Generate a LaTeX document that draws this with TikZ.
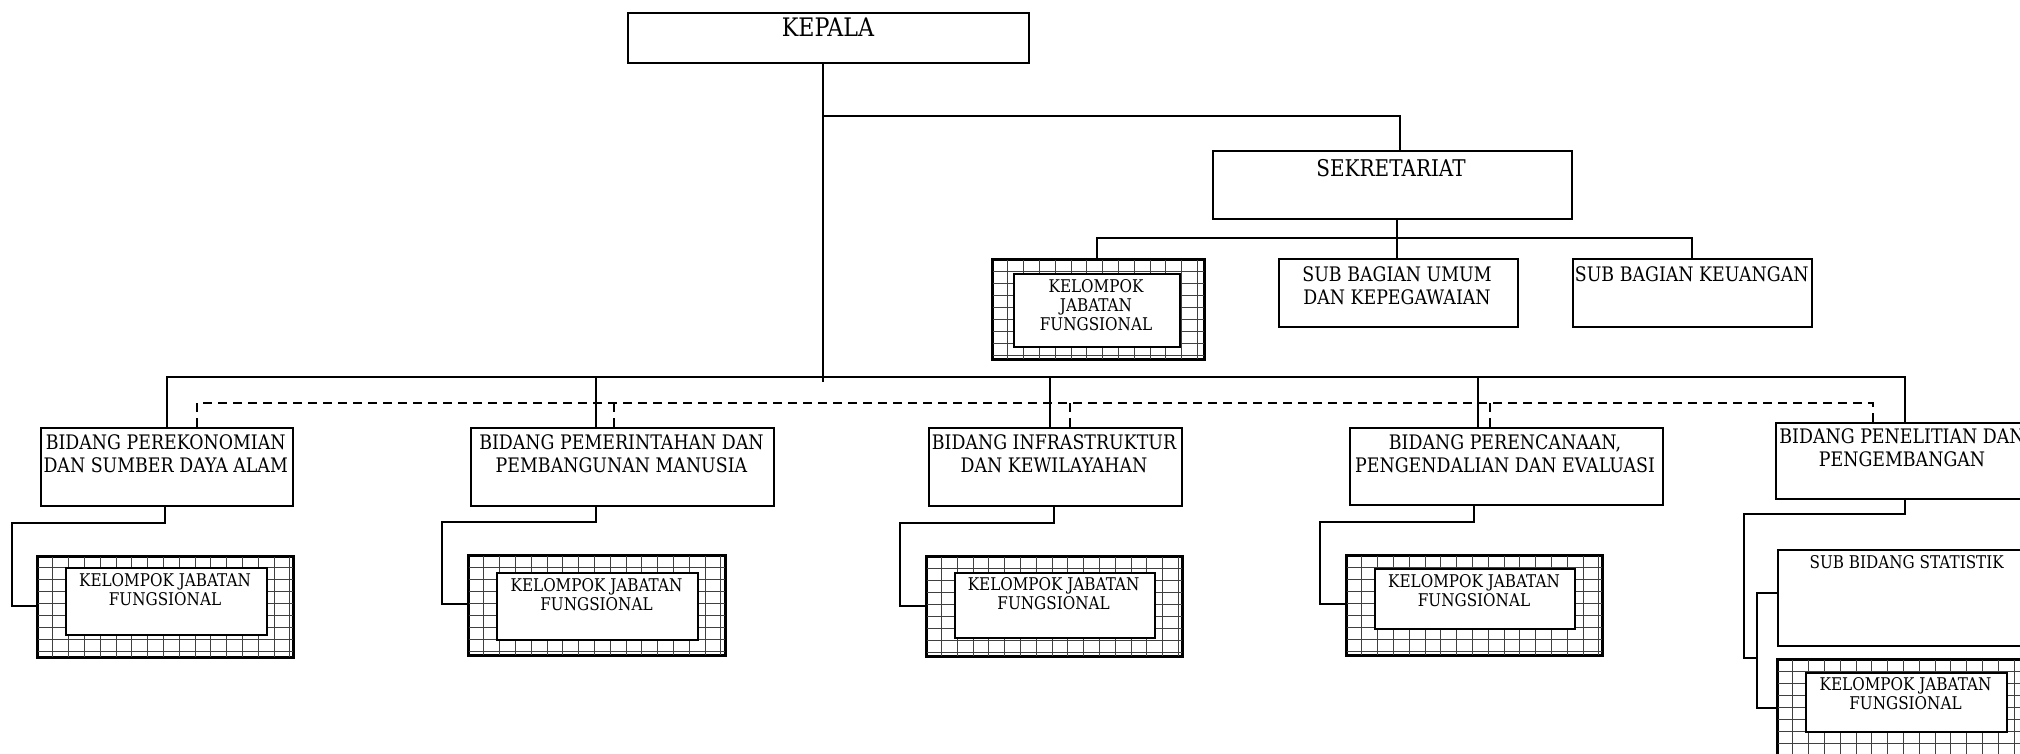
\documentclass[tikz,border=0pt]{standalone}
\usepackage{fontspec}
\setmainfont{DejaVu Serif}[FakeStretch=0.87]
\newcommand\fsz[2]{\fontsize{#1}{#2}\selectfont}
\tikzset{
  ln/.style={line width=2pt, black},
  dashln/.style={line width=2pt, black, dash pattern=on 9pt off 6pt},
  bx/.style={draw=black, line width=2pt, inner sep=0pt, fill=white},
  gbx/.style={draw=black, line width=2pt, inner sep=0pt, fill=white},
  gridln/.style={line width=0.8pt, black!75},
  txt/.style={inner sep=0pt, anchor=north, align=center},
  tA/.style={txt, font=\fsz{25.5}{29}},
  tS/.style={txt, font=\fsz{23}{26}},
  tB/.style={txt, font=\fsz{20}{23}},
  tK/.style={txt, font=\fsz{17.5}{19}},
}
% name, x1, y1, x2, y2
\newcommand\mkbox[5]{\node[bx, anchor=north west, minimum width={#4-#2}, minimum height={#5-#3}] (#1) at (#2,#3) {};}
% name, outer x1 y1 x2 y2, inner x1 y1 x2 y2
\newcommand\mkkjf[9]{%
  \node[gbx, anchor=north west, minimum width={#4-#2}, minimum height={#5-#3}] (#1) at (#2,#3) {};
  \begin{scope}
    \clip (#1.south west) rectangle (#1.north east);
    \foreach \k in {1,...,17} \draw[gridln] ([xshift=\k*15.8pt]#1.north west) -- ([xshift=\k*15.8pt]#1.south west);
    \foreach \k in {1,...,10} \draw[gridln] ([yshift=-\k*12pt]#1.north west) -- ([yshift=-\k*12pt]#1.north east);
  \end{scope}
  \draw[line width=2pt] (#1.south west) rectangle (#1.north east);
  \node[bx, anchor=north west, minimum width={#8-#6}, minimum height={#9-#7}] (#1i) at (#6,#7) {};
}
\begin{document}
\begin{tikzpicture}[x=1pt,y=-1pt]
\useasboundingbox (0,0) rectangle (2020,753);
\clip (0,0) rectangle (2020,753);

% ---- top level
\mkbox{kepala}{627}{12}{1028}{62}
\node[tA] (tkepala) at (828,18) {KEPALA};

\mkbox{sek}{1212}{150}{1570.7}{217.7}
\node[tS] (tsek) at (1391,159) {SEKRETARIAT};

\coordinate (trunk) at (822.7,382);
\coordinate (sekj) at (822.7,115.5);
\draw[ln] (trunk |- kepala.south) -- (trunk);
\draw[ln] (sekj) -| (sek.north -| 1399.6,0);

% ---- sekretariat children
\mkkjf{kjfs}{992}{259}{1203}{358.3}{1013}{273.3}{1178.6}{345.7}
\node[tK] (tkjfs) at (1096,279.3) {KELOMPOK\\JABATAN\\FUNGSIONAL};
\mkbox{sbu}{1277.9}{258.3}{1516.5}{325.7}
\node[tB] (tsbu) at (1397,266.7) {SUB BAGIAN UMUM\\DAN KEPEGAWAIAN};
\mkbox{sbk}{1572.4}{258.3}{1811}{325.7}
\node[tB] (tsbk) at (1691.7,266.7) {SUB BAGIAN KEUANGAN};

\coordinate (sbar) at (1397,237.7);
\draw[ln] (sek.south -| sbar) -- (sbar);
\draw[ln] (kjfs.north -| 1096.8,0) |- (sbar) -| (sbk.north -| 1691.5,0);
\draw[ln] (sbar) -- (sbu.north -| sbar);

% ---- bidang
\mkbox{b1}{39.5}{427}{292}{505}
\node[tB] (tb1) at (165.7,434) {BIDANG PEREKONOMIAN\\DAN SUMBER DAYA ALAM};
\mkbox{b2}{470}{426.5}{773}{505}
\node[tB] (tb2) at (621.5,434) {BIDANG PEMERINTAHAN DAN\\PEMBANGUNAN MANUSIA};
\mkbox{b3}{927.6}{427}{1180.6}{505}
\node[tB] (tb3) at (1054,434) {BIDANG INFRASTRUKTUR\\DAN KEWILAYAHAN};
\mkbox{b4}{1348.5}{426.5}{1662}{504}
\node[tB] (tb4) at (1505,434) {BIDANG PERENCANAAN,\\PENGENDALIAN DAN EVALUASI};
\mkbox{b5}{1775}{421.7}{2029}{498.3}
\node[tB] (tb5) at (1902,428) {BIDANG PENELITIAN DAN\\PENGEMBANGAN};

% main bar and drops
\coordinate (m1) at (167,377);
\coordinate (m2) at (596.3,377);
\coordinate (m3) at (1050,377);
\coordinate (m4) at (1477.5,377);
\coordinate (m5) at (1905,377);
\draw[ln] (b1.north -| m1) |- (m5) -- (b5.north -| m5);
\draw[ln] (m2) -- (b2.north -| m2);
\draw[ln] (m3) -- (b3.north -| m3);
\draw[ln] (m4) -- (b4.north -| m4);

% dashed bar
\coordinate (d1) at (197,403);
\coordinate (d2) at (614.3,403);
\coordinate (d3) at (1070.3,403);
\coordinate (d4) at (1490.3,403);
\coordinate (d5) at (1873,403);
\draw[dashln] (b1.north -| d1) |- (d5) -- (b5.north -| d5);
\draw[dashln] (d2) -- (b2.north -| d2);
\draw[dashln] (d3) -- (b3.north -| d3);
\draw[dashln] (d4) -- (b4.north -| d4);

% ---- kelompok jabatan fungsional boxes
\mkkjf{k1}{37}{555.7}{292}{655.5}{65}{567.3}{265.5}{634.3}
\node[tK] (tk1) at (165,573) {KELOMPOK JABATAN\\FUNGSIONAL};
\mkkjf{k2}{468}{555}{723.5}{654}{496}{572}{697}{639}
\node[tK] (tk2) at (596.5,578) {KELOMPOK JABATAN\\FUNGSIONAL};
\mkkjf{k3}{925.5}{556}{1180.6}{655}{953.6}{571.7}{1153.6}{636.7}
\node[tK] (tk3) at (1053.6,577) {KELOMPOK JABATAN\\FUNGSIONAL};
\mkkjf{k4}{1346}{555}{1600.7}{654}{1374}{568.3}{1574}{627.7}
\node[tK] (tk4) at (1474,574) {KELOMPOK JABATAN\\FUNGSIONAL};

\mkbox{sbs}{1777}{549}{2040}{645}
\node[tK] (tsbs) at (1906.7,555) {SUB BIDANG STATISTIK};
\mkkjf{k5}{1777}{659}{2040}{775}{1805}{672}{2006}{731}
\node[tK] (tk5) at (1905.5,677.3) {KELOMPOK JABATAN\\FUNGSIONAL};

% lower connectors
\coordinate (c1a) at (165,522.7); \coordinate (c1b) at (11.5,606);
\draw[ln] (b1.south -| c1a) -- (c1a) -| (c1b) -- (k1.west |- c1b);
\coordinate (c2a) at (596,522); \coordinate (c2b) at (442,604);
\draw[ln] (b2.south -| c2a) -- (c2a) -| (c2b) -- (k2.west |- c2b);
\coordinate (c3a) at (1053.6,522.7); \coordinate (c3b) at (900,606);
\draw[ln] (b3.south -| c3a) -- (c3a) -| (c3b) -- (k3.west |- c3b);
\coordinate (c4a) at (1473.5,522); \coordinate (c4b) at (1320,604.3);
\draw[ln] (b4.south -| c4a) -- (c4a) -| (c4b) -- (k4.west |- c4b);
\coordinate (c5a) at (1905,514.3); \coordinate (c5b) at (1744.3,657.7);
\coordinate (c6a) at (1756.7,593.3); \coordinate (c6b) at (1756.7,708.3);
\draw[ln] (b5.south -| c5a) -- (c5a) -| (c5b) -- (c5b -| c6a);
\draw[ln] (sbs.west |- c6a) -- (c6a) -- (c6b) -- (k5.west |- c6b);
\end{tikzpicture}
\end{document}
